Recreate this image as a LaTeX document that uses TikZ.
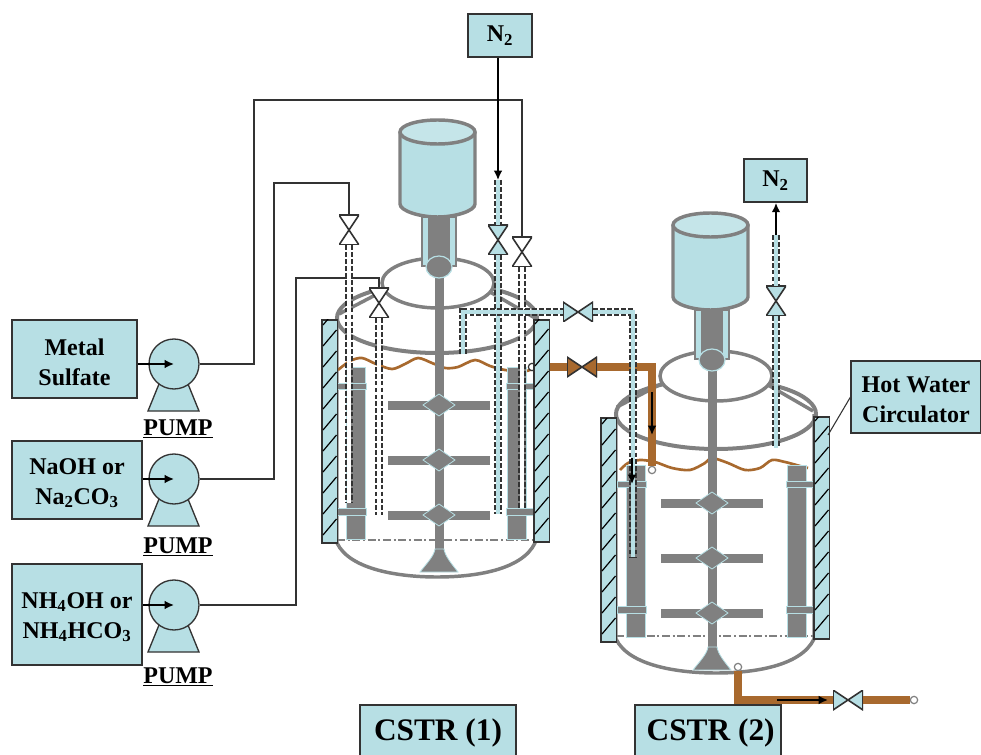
\documentclass[tikz,border=0pt]{standalone}
\usepackage{xcolor}
\usepackage{fontspec}
\usetikzlibrary{arrows.meta}
\setmainfont{Liberation Serif}
\definecolor{paleblue}{HTML}{B7DFE4}
\definecolor{steelgray}{HTML}{808080}
\definecolor{pipebrown}{HTML}{A8692E}
\definecolor{inkgray}{HTML}{333333}
\tikzset{
  labelbox/.style={draw=inkgray,line width=1.3pt,fill=paleblue,inner sep=0pt,align=center,text=black,font=\fontsize{18}{22.5}\selectfont\bfseries},
  titlebox/.style={labelbox,font=\fontsize{23.5}{26}\selectfont\bfseries},
  pumpcirc/.style={circle,draw=inkgray,line width=1pt,fill=paleblue,minimum size=37.5pt,inner sep=0pt},
  pumplabel/.style={inner sep=0pt,font=\fontsize{18}{22}\selectfont\bfseries},
  feedline/.style={draw=inkgray,line width=1.3pt},
  feedarrow/.style={feedline,draw=black,-{Latex[length=7pt,width=6.5pt]}},
  steelline/.style={draw=steelgray,line width=2.6pt},
  steelfill/.style={fill=steelgray,draw=paleblue,line width=0.6pt},
  tubeout/.style={draw=inkgray,line width=5.4pt,dash pattern=on 3.6pt off 1.6pt},
  tubein/.style={line width=2.7pt},
  valvev/.style={minimum width=15pt,minimum height=22.5pt,inner sep=0pt,path picture={
    \draw[fill=#1,draw=inkgray,line width=1.2pt] (path picture bounding box.north west) -- (path picture bounding box.north east) -- (path picture bounding box.south west) -- (path picture bounding box.south east) -- cycle;}},
  valveh/.style={minimum width=22.5pt,minimum height=15pt,inner sep=0pt,path picture={
    \draw[fill=#1,draw=inkgray,line width=1.2pt] (path picture bounding box.north west) -- (path picture bounding box.south west) -- (path picture bounding box.north east) -- (path picture bounding box.south east) -- cycle;}},
  brownpipe/.style={draw=gray!45,line width=0.3pt,double=pipebrown,double distance=6pt},
  portring/.style={circle,draw=steelgray,line width=0.9pt,fill=white,minimum size=5.5pt,inner sep=0pt}
}
\newcommand{\tube}[2]{\draw[tubeout] #2; \draw[tubein,draw=#1] #2;}
\newcommand{\dropline}[1]{\rule{0pt}{#1pt}}
\begin{document}
\begin{tikzpicture}[x=0.75pt,y=-0.75pt]
  \useasboundingbox (0,0) rectangle (981,755);
  \fill[white] (0,0) rectangle (981,755);

  \foreach \dx/\dy in {0/0,279/96} {
    \begin{scope}[shift={(\dx,\dy)}]
      \draw[steelline] (337,318) -- (337,543) .. controls (350,570) and (400,577) .. (437,577) .. controls (475,577) and (522,570) .. (535,543) -- (535,318);
      \draw[steelline,line width=3pt] (437,318) ellipse (100 and 35);
      \draw[draw=steelgray,line width=0.9pt,dash pattern=on 6pt off 2pt on 1.5pt off 2pt] (337,540) -- (534,540);
    \end{scope}
  }
  \foreach \dx/\dy in {0/0,278/93} {
    \begin{scope}[shift={(\dx,\dy)}]
      \draw[steelline] (385,290) -- (339,314);
      \draw[steelline] (490,292) -- (535,318);
      \draw[steelline,fill=white] (438,283) ellipse (56 and 25);
    \end{scope}
  }

  \draw[pipebrown,line width=2pt] plot[smooth] coordinates {(338,370) (350,361) (362,358) (376,364) (392,369) (405,364) (418,358) (432,363) (445,368) (458,367) (475,360) (490,366) (505,370) (518,371) (530,370) (536,360)};
  \draw[pipebrown,line width=2pt] plot[smooth] coordinates {(620,470) (628,463) (640,460) (655,462) (672,468) (690,470) (705,463) (712,458) (728,463) (745,470) (760,468) (772,460) (785,462) (800,466) (808,468)};

  \foreach \dx/\dy in {0/0,280/98} {
    \begin{scope}[shift={(\dx,\dy)}]
      \foreach \bx in {346,507} {
        \draw[steelfill] (\bx,367) rectangle (\bx+19,539);
      }
      \draw[steelfill] (337,383.5) rectangle (366,389);
      \draw[steelfill] (506,383.5) rectangle (534,389);
      \draw[steelfill] (337,508.5) rectangle (366,515.5);
      \draw[steelfill] (506,508.5) rectangle (534,515.5);
    \end{scope}
  }

  \foreach \dx/\dy in {0/0,273/98} {
    \begin{scope}[shift={(\dx,\dy)}]
      \fill[steelgray] (434.5,270) rectangle (443.5,555);
      \draw[steelfill] (435,549) .. controls (434,556) and (427,563) .. (420,572) -- (458,572) .. controls (451,563) and (445,556) .. (444,549) -- cycle;
      \foreach \py in {405,460,515} {
        \fill[steelgray] (388,\py-4.5) rectangle (490,\py+4.5);
        \draw[steelfill] (423,\py) -- (439,\py-11) -- (455,\py) -- (439,\py+11) -- cycle;
      }
    \end{scope}
  }
  \fill[steelgray] (707.5,360) rectangle (716.5,370);

  \foreach \dx/\dy in {0/0,273/93} {
    \begin{scope}[shift={(\dx,\dy)}]
      \draw[steelline,fill=paleblue] (400,132) -- (400,204) .. controls (400,211) and (420,217) .. (437.5,217) .. controls (455,217) and (475,211) .. (475,204) -- (475,132);
      \draw[steelline,fill=paleblue!80!white] (437.5,132) ellipse (37.5 and 12);
      \draw[draw=steelgray,line width=1pt,fill=paleblue] (422,217) rectangle (456,266);
      \fill[steelgray] (428,217) rectangle (450,262);
      \draw[steelfill,line width=0.9pt] (439,267) ellipse (13 and 11);
    \end{scope}
  }

  \node[titlebox,minimum width=117pt,minimum height=42pt] (titleA) at (438,733) {CSTR (1)};
  \node[titlebox,minimum width=110pt,minimum height=42pt] (titleB) at (708,733) {\hspace{4pt}CSTR (2)};
  \node[labelbox,minimum width=93.75pt,minimum height=59pt] (boxA) at (74.5,359) {\dropline{17}Metal\\Sulfate};
  \node[labelbox,minimum width=97.5pt,minimum height=58.5pt] (boxB) at (77,480) {\dropline{17}NaOH or\\Na\textsubscript{2}CO\textsubscript{3}};
  \node[labelbox,minimum width=97.5pt,minimum height=75.75pt] (boxC) at (77,614.5) {\dropline{16}NH\textsubscript{4}OH or\\NH\textsubscript{4}HCO\textsubscript{3}};
  \node[labelbox,minimum width=48pt,minimum height=32.25pt] (gasA) at (500,35.5) {N\textsubscript{2}};
  \node[labelbox,minimum width=47.25pt,minimum height=32.25pt] (gasB) at (775.5,180.5) {N\textsubscript{2}};
  \node[labelbox,minimum width=97pt,minimum height=54pt] (hotbox) at (916,397) {\dropline{15.5}Hot Water\\Circulator};

  \foreach \nm/\cy/\ly in {pumpA/364/429,pumpB/479/547,pumpC/605/677} {
    \draw[draw=inkgray,line width=1pt,fill=paleblue] (159,\cy+20) -- (148,\cy+47) -- (199,\cy+47) -- (188,\cy+20) -- cycle;
    \node[pumpcirc] (\nm) at (174,\cy) {};
    \node[pumplabel] (\nm label) at (178,\ly) {\underline{PUMP}};
  }
  \draw[feedarrow] (boxA.east |- pumpA) -- (pumpA.center);
  \draw[feedarrow] (boxB.east |- pumpB) -- (pumpB.center);
  \draw[feedarrow] (boxC.east |- pumpC) -- (pumpC.center);

  \node[valvev=white] (valA) at (349,230) {};
  \node[valvev=white] (valB) at (379,303) {};
  \node[valvev=paleblue] (valC) at (498,240) {};
  \node[valvev=white] (valD) at (522,252) {};
  \node[valvev=paleblue] (valE) at (776,301) {};
  \node[valveh=paleblue] (valF) at (578,312) {};
  \node[valveh=pipebrown] (valG) at (582,367) {};
  \node[valveh=paleblue] (valH) at (848,700) {};

  \coordinate (bendA) at (254,100);
  \coordinate (bendB) at (274,183);
  \coordinate (bendC) at (296,278);
  \draw[feedline] (pumpA.east) -| (bendA) -| (valD.north);
  \draw[feedline] (pumpB.east) -| (bendB) -| (valA.north);
  \draw[feedline] (pumpC.east) -| (bendC) -| (valB.north);

  \coordinate (endA) at (349,503);
  \coordinate (endB) at (379,515);
  \coordinate (topC) at (498,180);
  \coordinate (endC) at (498,514);
  \coordinate (endD) at (522,508);
  \coordinate (topE) at (776,235);
  \coordinate (endE) at (776,448);
  \coordinate (dropF) at (463,354);
  \coordinate (cornerF) at (463,312);
  \coordinate (cornerG) at (633,312);
  \coordinate (endF) at (633,557);

  \coordinate (jacketout) at (549,367);
  \coordinate (cornerH) at (652,367);
  \node[portring] (ringA) at (652,470) {};
  \node[portring,draw=inkgray] (ringB) at (532,367) {};
  \node[portring] (ringC) at (738,667) {};
  \node[portring] (ringD) at (914,700) {};
  \draw[brownpipe] (jacketout) -- (valG.west);
  \draw[brownpipe] (valG.east) -- (cornerH) -- (ringA.north);
  \draw[brownpipe] (ringC.south) |- (valH.west);
  \draw[brownpipe] (valH.east) -- (ringD.west);

  \tube{white}{(valA.south) -- (endA)}
  \tube{white}{(valB.south) -- (endB)}
  \tube{paleblue}{(topC) -- (valC.north)}
  \tube{paleblue}{(valC.south) -- (endC)}
  \tube{white}{(valD.south) -- (endD)}
  \tube{paleblue}{(topE) -- (valE.north)}
  \tube{paleblue}{(valE.south) -- (endE)}
  \tube{paleblue}{(dropF) -- (cornerF) -- (valF.west)}
  \tube{paleblue}{(valF.east) -- (cornerG) -- (endF)}

  \draw[feedarrow] (gasA.south -| topC) -- (topC);
  \draw[feedarrow] (topE) -- (gasB.south -| topE);
  \coordinate (arrowA) at (652,392);
  \coordinate (arrowAend) at (652,435);
  \coordinate (arrowB) at (632,458);
  \coordinate (arrowBend) at (632,484);
  \coordinate (arrowC) at (777,700);
  \coordinate (arrowCend) at (828,700);
  \draw[feedarrow] (arrowA) -- (arrowAend);
  \draw[feedarrow] (arrowB) -- (arrowBend);
  \draw[feedarrow] (arrowC) -- (arrowCend);

  \foreach \jx/\jt/\jb in {322/320/543,534/320/542,601/418/642,814/417/639} {
    \begin{scope}
      \draw[draw=inkgray,line width=1pt,fill=paleblue] (\jx,\jt) rectangle (\jx+15.5,\jb);
      \clip (\jx,\jt) rectangle (\jx+15.5,\jb);
      \foreach \hy in {8,29,...,240} {
        \draw[black,line width=0.9pt] (\jx+1,\jb-\hy) -- (\jx+14.5,\jb-\hy-16);
      }
    \end{scope}
  }

  \coordinate (jacketB) at (828,435);
  \draw[draw=inkgray,line width=0.8pt] (hotbox.west) -- (jacketB);
\end{tikzpicture}
\end{document}
